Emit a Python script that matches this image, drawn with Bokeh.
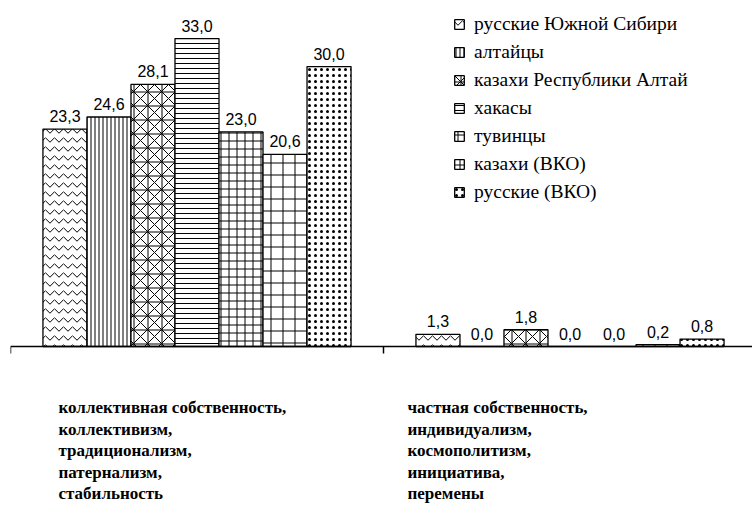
from bokeh.plotting import figure
from bokeh.models import ColumnDataSource, Range1d, Span
from bokeh.core.properties import value
from bokeh.embed import file_html
from bokeh.resources import INLINE

# ---- data ----
category_lines = [
    ["коллективная собственность,", "коллективизм,", "традиционализм,", "патернализм,", "стабильность"],
    ["частная собственность,", "индивидуализм,", "космополитизм,", "инициатива,", "перемены"],
]
series_names = ["русские Южной Сибири", "алтайцы", "казахи Республики Алтай", "хакасы",
                "тувинцы", "казахи (ВКО)", "русские (ВКО)"]
russkie_yuzhnoy_sibiri = [23.3, 1.3]
altaytsy = [24.6, 0.0]
kazakhi_ra = [28.1, 1.8]
khakasy = [33.0, 0.0]
tuvintsy = [23.0, 0.0]
kazakhi_vko = [20.6, 0.2]
russkie_vko = [30.0, 0.8]
series_values = [russkie_yuzhnoy_sibiri, altaytsy, kazakhi_ra, khakasy, tuvintsy, kazakhi_vko, russkie_vko]

# ---- styles / layout ----
hatches = ["horizontal_wave", "vertical_line", "criss_cross", "horizontal_line", "cross", "cross", "dot"]
hatch_scales = [9, 4, 14, 5, 8, 12, 6]
hatch_weights = [1, 1, 1, 1, 1, 1, 0.3]
W, H = 752, 507
left_pad = 10
axis_y_px = 346          # pixel row of the axis line from the top
cat_px = 373.0           # pixels per category
px_per_unit = 9.33       # pixels per percent
bar_w = 0.118
label_dx = [48, 24]
frame_w = W - left_pad

p = figure(width=W, height=H, output_backend="svg", toolbar_location=None,
           x_range=Range1d(0, frame_w / cat_px),
           y_range=Range1d(-(H - axis_y_px) / px_per_unit, axis_y_px / px_per_unit),
           min_border_left=left_pad, min_border_right=0, min_border_top=0, min_border_bottom=0)
p.outline_line_color = None
p.xgrid.visible = False
p.ygrid.visible = False
p.xaxis.visible = False
p.yaxis.visible = False

n = len(series_names)
for i, (name, vals) in enumerate(zip(series_names, series_values)):
    xs = [c + 0.5 + (i - (n - 1) / 2) * bar_w for c in range(len(vals))]
    src = ColumnDataSource(dict(x=xs, top=vals, label=[f"{v:.1f}".replace(".", ",") for v in vals]))
    p.vbar(x="x", top="top", bottom=0, width=bar_w, source=src, fill_color="white", line_color="black",
           line_width=1.3, hatch_pattern=hatches[i], hatch_scale=hatch_scales[i],
           hatch_color="black", hatch_weight=hatch_weights[i], legend_label=name)
    p.text(x="x", y="top", text="label", source=src, text_align="center",
           text_baseline="alphabetic", y_offset=-13, text_font=value("Liberation Sans"),
           text_font_size="16px", text_color="black")

# axis line and ticks at category boundaries
p.add_layout(Span(location=0, dimension="width", line_color="black", line_width=1.5))
tick_x = list(range(len(category_lines) + 1))
p.segment(x0=tick_x, x1=tick_x, y0=[0] * len(tick_x), y1=[-7 / px_per_unit] * len(tick_x),
          line_color="black", line_width=1.5)

# category labels below the axis
lx, ldx, ldy, ltext = [], [], [], []
for c, lines in enumerate(category_lines):
    for k, line in enumerate(lines):
        lx.append(c)
        ldx.append(label_dx[c])
        ldy.append(61 + 21.5 * k)
        ltext.append(line)
lsrc = ColumnDataSource(dict(x=lx, y=[0] * len(lx), dx=ldx, dy=ldy, text=ltext))
p.text(x="x", y="y", x_offset="dx", y_offset="dy", text="text", source=lsrc,
       text_align="left", text_baseline="middle", text_font=value("Liberation Serif"),
       text_font_style="bold", text_font_size="17px", text_color="black")

lg = p.legend[0]
lg.location = (443, H - 13 - 190)
lg.glyph_width = 12
lg.glyph_height = 12
lg.label_standoff = 9
lg.padding = 0
lg.margin = 0
lg.spacing = 6
lg.label_height = 20
lg.border_line_color = None
lg.background_fill_alpha = 0
lg.label_text_font = "Liberation Serif"
lg.label_text_font_size = "19.5px"
lg.label_text_color = "black"

open("out.html", "w").write(file_html(p, INLINE))
